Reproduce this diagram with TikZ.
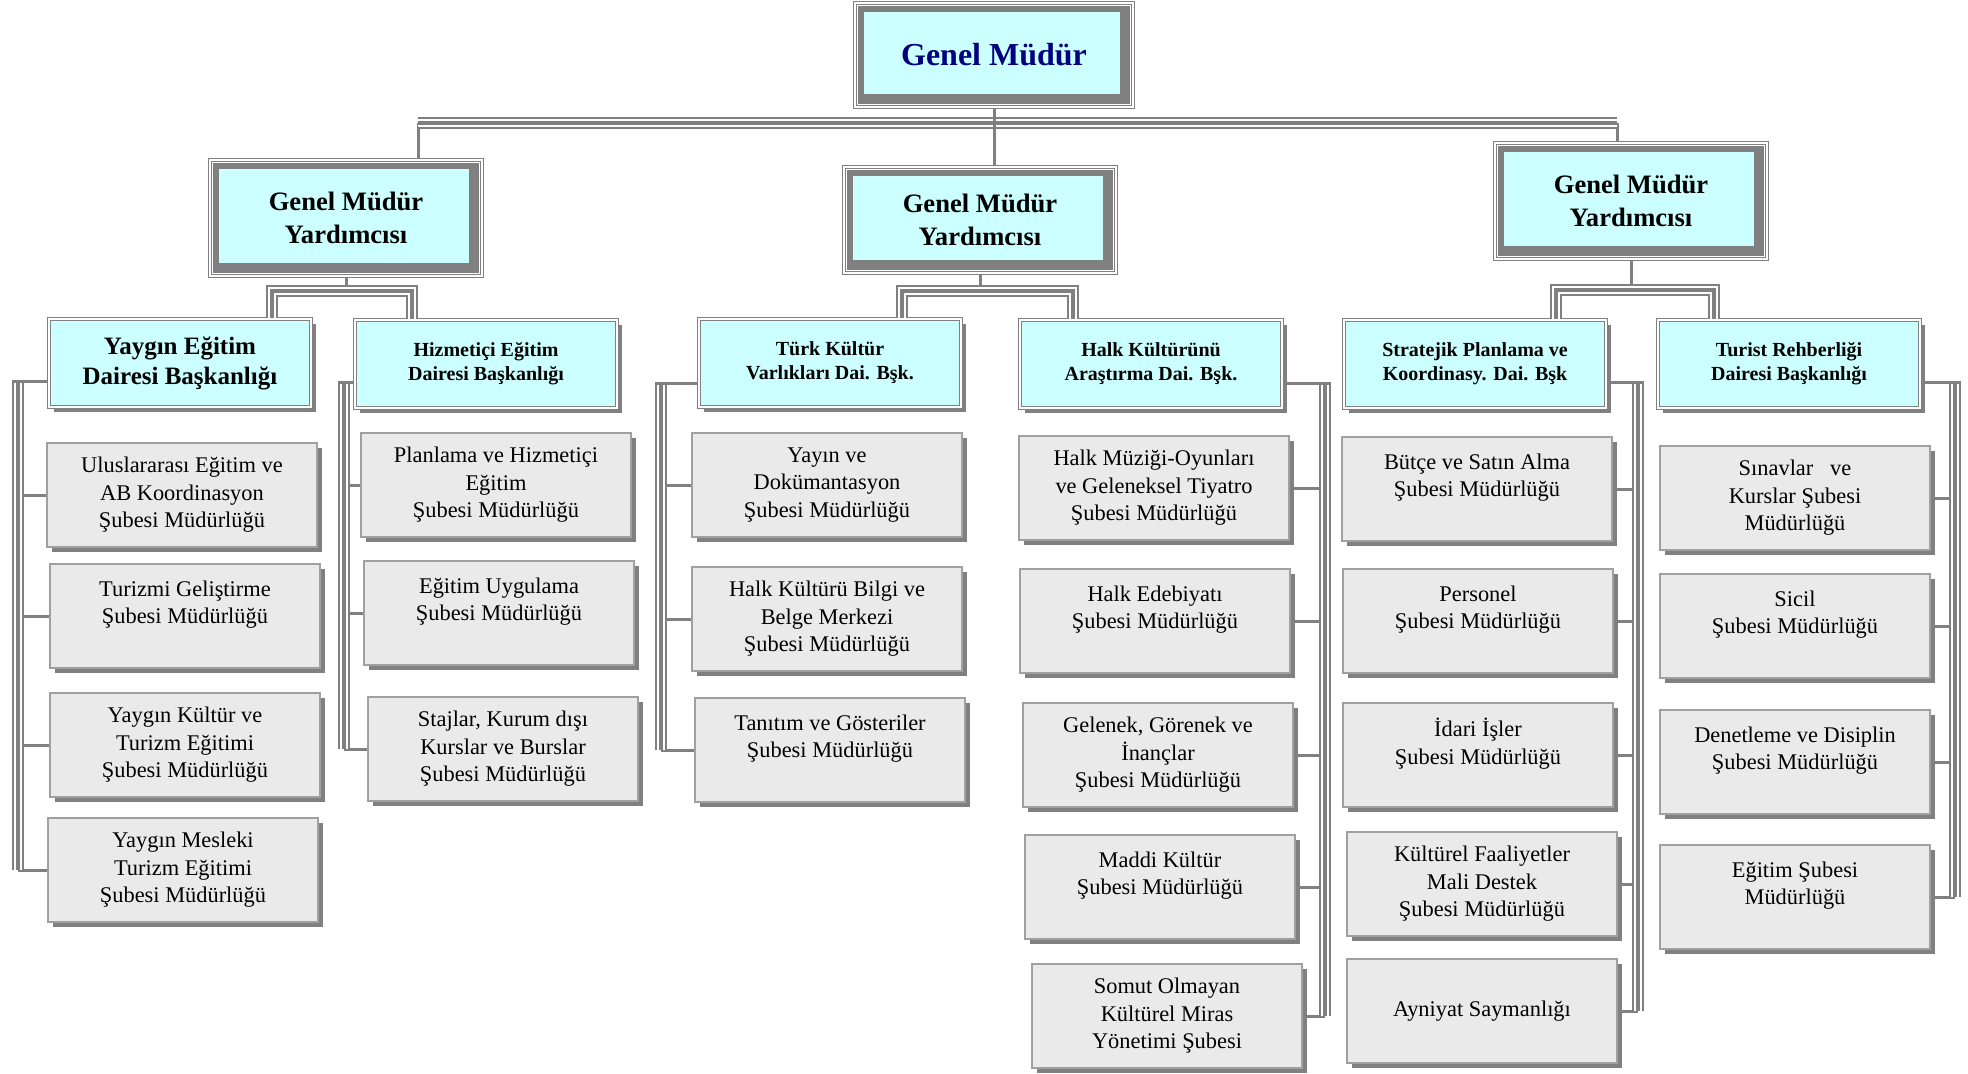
\documentclass[tikz,border=0pt]{standalone}
\usepackage{fontspec}
\setmainfont{Liberation Serif}
\usetikzlibrary{shadows}
\definecolor{headcyan}{HTML}{CCFFFF}
\definecolor{linegray}{HTML}{808080}
\definecolor{boxgray}{HTML}{EAEAEA}
\definecolor{edgegray}{HTML}{A0A0A0}
\definecolor{titleblue}{HTML}{000080}

\begin{document}
\begin{tikzpicture}[x=0.5pt, y=-0.5pt,
    link/.style={draw=linegray, line width=1.5pt},
    tri/.style={draw=white, line width=4pt,
      preaction={draw=linegray, line width=6.2pt},
      postaction={draw=linegray, line width=2pt}},
    chief/.style={rectangle, draw=linegray, line width=0.6pt, double=white,
      double distance=1.2pt, fill=white, align=center, inner sep=0pt,
      path picture={
        \fill[linegray] ([shift={(1.5pt,1.5pt)}]path picture bounding box.south west)
          rectangle ([shift={(-1.5pt,-1.5pt)}]path picture bounding box.north east);
        \fill[headcyan] ([shift={(4.5pt,6.5pt)}]path picture bounding box.south west)
          rectangle ([shift={(-6.5pt,-4.5pt)}]path picture bounding box.north east);
      }},
    dept/.style={rectangle, draw=linegray, line width=0.6pt, double=white,
      double distance=1pt, fill=headcyan, align=center,
      minimum width=131pt, minimum height=44pt, inner sep=0pt,
      drop shadow={shadow xshift=2.5pt, shadow yshift=-2.5pt, fill=linegray, opacity=1},
      font=\fontsize{10}{12}\selectfont\bfseries},
    unit/.style={rectangle, draw=edgegray, line width=0.8pt, fill=boxgray, align=center,
      minimum width=135pt, minimum height=52pt, inner sep=0pt,
      drop shadow={shadow xshift=2.5pt, shadow yshift=-2.5pt, fill=linegray, opacity=1},
      font=\fontsize{11.2}{13.8}\selectfont}
    ]
  \useasboundingbox (0,0) rectangle (1968,1074);

  \node[chief, minimum width=139pt, minimum height=52pt, text=titleblue,
    font=\fontsize{16}{19}\selectfont\bfseries] (gm) at (994,55) {Genel Müdür};
  \node[chief, minimum width=136pt, minimum height=58pt,
    font=\fontsize{13.3}{16.3}\selectfont\bfseries] (gmyl) at (346,218) {Genel Müdür\\Yardımcısı};
  \node[chief, minimum width=136pt, minimum height=53pt,
    font=\fontsize{13.3}{16.3}\selectfont\bfseries] (gmym) at (980,220) {Genel Müdür\\Yardımcısı};
  \node[chief, minimum width=136pt, minimum height=58pt,
    font=\fontsize{13.3}{16.3}\selectfont\bfseries] (gmyr) at (1631,201) {Genel Müdür\\Yardımcısı};

  \node[dept, font=\fontsize{12.5}{15}\selectfont\bfseries] (dyay) at (180,363) {Yaygın Eğitim\\Dairesi Başkanlığı};
  \node[dept] (dhiz) at (486,364) {Hizmetiçi Eğitim\\Dairesi Başkanlığı};
  \node[dept] (dtur) at (830,363) {Türk Kültür\\Varlıkları Dai. Bşk.};
  \node[dept] (dhalk) at (1151,364) {Halk Kültürünü\\Araştırma Dai. Bşk.};
  \node[dept] (dstr) at (1475,364) {Stratejik Planlama ve\\Koordinasy. Dai. Bşk};
  \node[dept] (drehb) at (1789,364) {Turist Rehberliği\\Dairesi Başkanlığı};

  \node[unit] (s11) at (182,495) {Uluslararası Eğitim ve\\AB Koordinasyon\\Şubesi Müdürlüğü};
  \node[unit] (s12) at (185,616) {Turizmi Geliştirme\\Şubesi Müdürlüğü\\\mbox{}};
  \node[unit] (s13) at (185,745) {Yaygın Kültür ve\\Turizm Eğitimi\\Şubesi Müdürlüğü};
  \node[unit] (s14) at (183,870) {Yaygın Mesleki\\Turizm Eğitimi\\Şubesi Müdürlüğü};

  \node[unit] (s21) at (496,485) {Planlama ve Hizmetiçi\\Eğitim\\Şubesi Müdürlüğü};
  \node[unit] (s22) at (499,613) {Eğitim Uygulama\\Şubesi Müdürlüğü\\\mbox{}};
  \node[unit] (s23) at (503,749) {Stajlar, Kurum dışı\\Kurslar ve Burslar\\Şubesi Müdürlüğü};

  \node[unit] (s31) at (827,485) {Yayın ve\\Dokümantasyon\\Şubesi Müdürlüğü};
  \node[unit] (s32) at (827,619) {Halk Kültürü Bilgi ve\\Belge Merkezi\\Şubesi Müdürlüğü};
  \node[unit] (s33) at (830,750) {Tanıtım ve Gösteriler\\Şubesi Müdürlüğü\\\mbox{}};

  \node[unit] (s41) at (1154,488) {Halk Müziği-Oyunları\\ve Geleneksel Tiyatro\\Şubesi Müdürlüğü};
  \node[unit] (s42) at (1155,621) {Halk Edebiyatı\\Şubesi Müdürlüğü\\\mbox{}};
  \node[unit] (s43) at (1158,755) {Gelenek, Görenek ve\\İnançlar\\Şubesi Müdürlüğü};
  \node[unit] (s44) at (1160,887) {Maddi Kültür\\Şubesi Müdürlüğü\\\mbox{}};
  \node[unit] (s45) at (1167,1016) {Somut Olmayan\\Kültürel Miras\\Yönetimi Şubesi};

  \node[unit] (s51) at (1477,489) {Bütçe ve Satın Alma\\Şubesi Müdürlüğü\\\mbox{}};
  \node[unit] (s52) at (1478,621) {Personel\\Şubesi Müdürlüğü\\\mbox{}};
  \node[unit] (s53) at (1478,755) {İdari İşler\\Şubesi Müdürlüğü\\\mbox{}};
  \node[unit] (s54) at (1482,884) {Kültürel Faaliyetler\\Mali Destek\\Şubesi Müdürlüğü};
  \node[unit] (s55) at (1482,1011) {Ayniyat Saymanlığı};

  \node[unit] (s61) at (1795,498) {Sınavlar~~~ve\\Kurslar Şubesi\\Müdürlüğü};
  \node[unit] (s62) at (1795,626) {Sicil\\Şubesi Müdürlüğü\\\mbox{}};
  \node[unit] (s63) at (1795,762) {Denetleme ve Disiplin\\Şubesi Müdürlüğü\\\mbox{}};
  \node[unit] (s64) at (1795,897) {Eğitim Şubesi\\Müdürlüğü\\\mbox{}};

  \coordinate (busl) at (418,123);
  \coordinate (busr) at (1617,123);
  \coordinate (abl) at (272,291);
  \coordinate (abr) at (412,291);
  \coordinate (bbl) at (902,291);
  \coordinate (bbr) at (1073,291);
  \coordinate (cbl) at (1556,290);
  \coordinate (cbr) at (1714,290);

  \draw[link] (busl) -- (gmyl.north -| busl);
  \draw[link] (busr) -- (gmyr.north -| busr);
  \draw[tri] (busl) -- (busr);
  \draw[link] (gm.south) -- (gm.south |- gmym.north);

  \draw[link] (gmyl.south) -- (gmyl.south |- abl);
  \draw[tri] (dyay.north -| abl) -- (abl) -- (abr) -- (dhiz.north -| abr);
  \draw[link] (gmym.south) -- (gmym.south |- bbl);
  \draw[tri] (dtur.north -| bbl) -- (bbl) -- (bbr) -- (dhalk.north -| bbr);
  \draw[link] (gmyr.south) -- (gmyr.south |- cbl);
  \draw[tri] (dstr.north -| cbl) -- (cbl) -- (cbr) -- (drehb.north -| cbr);

  \coordinate (ta1) at (18,382);
  \coordinate (ta2) at (344,383);
  \coordinate (tb1) at (661,384);
  \coordinate (tb2) at (1325,384);
  \coordinate (tc1) at (1638,383);
  \coordinate (tc2) at (1955,383);

  \draw[link] (s11.west) -- (s11.west -| ta1) (s12.west) -- (s12.west -| ta1)
    (s13.west) -- (s13.west -| ta1) (s14.west) -- (s14.west -| ta1);
  \draw[tri] (ta1) -- (ta1 |- s14.west);
  \draw[link] (dyay.west |- ta1) -- ([xshift=-3.1pt]ta1);

  \draw[link] (s21.west) -- (s21.west -| ta2) (s22.west) -- (s22.west -| ta2)
    (s23.west) -- (s23.west -| ta2);
  \draw[tri] (ta2) -- (ta2 |- s23.west);
  \draw[link] (dhiz.west |- ta2) -- ([xshift=-3.1pt]ta2);

  \draw[link] (s31.west) -- (s31.west -| tb1) (s32.west) -- (s32.west -| tb1)
    (s33.west) -- (s33.west -| tb1);
  \draw[tri] (tb1) -- (tb1 |- s33.west);
  \draw[link] (dtur.west |- tb1) -- ([xshift=-3.1pt]tb1);

  \draw[link] (s41.east) -- (s41.east -| tb2) (s42.east) -- (s42.east -| tb2)
    (s43.east) -- (s43.east -| tb2) (s44.east) -- (s44.east -| tb2)
    (s45.east) -- (s45.east -| tb2);
  \draw[tri] (tb2) -- (tb2 |- s45.east);
  \draw[link] (dhalk.east |- tb2) -- ([xshift=3.1pt]tb2);

  \draw[link] (s51.east) -- (s51.east -| tc1) (s52.east) -- (s52.east -| tc1)
    (s53.east) -- (s53.east -| tc1) (s54.east) -- (s54.east -| tc1)
    (s55.east) -- (s55.east -| tc1);
  \draw[tri] (tc1) -- (tc1 |- s55.east);
  \draw[link] (dstr.east |- tc1) -- ([xshift=3.1pt]tc1);

  \draw[link] (s61.east) -- (s61.east -| tc2) (s62.east) -- (s62.east -| tc2)
    (s63.east) -- (s63.east -| tc2) (s64.east) -- (s64.east -| tc2);
  \draw[tri] (tc2) -- (tc2 |- s64.east);
  \draw[link] (drehb.east |- tc2) -- ([xshift=3.1pt]tc2);
\end{tikzpicture}
\end{document}
